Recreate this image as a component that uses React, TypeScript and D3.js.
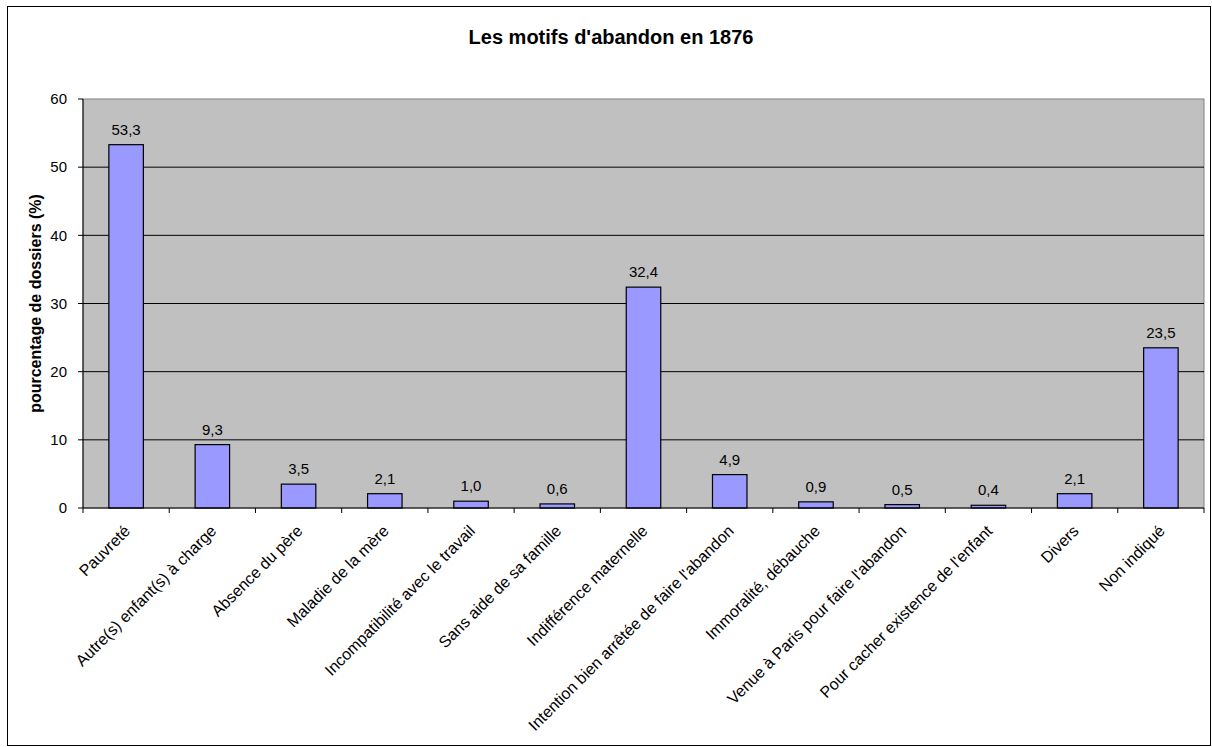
import React from "react";
import * as d3 from "d3";

const categories = [
  "Pauvreté",
  "Autre(s) enfant(s) à charge",
  "Absence du père",
  "Maladie de la mère",
  "Incompatibilité avec le travail",
  "Sans aide de sa famille",
  "Indifférence maternelle",
  "Intention bien arrêtée de faire l'abandon",
  "Immoralité, débauche",
  "Venue à Paris pour faire l'abandon",
  "Pour cacher existence de l'enfant",
  "Divers",
  "Non indiqué",
];
const values = [53.3, 9.3, 3.5, 2.1, 1.0, 0.6, 32.4, 4.9, 0.9, 0.5, 0.4, 2.1, 23.5];
const yTicks = [0, 10, 20, 30, 40, 50, 60];

const W = 1212;
const H = 747;
const plot = { left: 83, right: 1204, top: 99, bottom: 508 };
const font = "'Liberation Sans', Arial, sans-serif";

export default function App() {
  const x = d3
    .scaleBand<string>()
    .domain(categories)
    .range([plot.left, plot.right])
    .paddingInner(0.6)
    .paddingOuter(0.3);
  const y = d3.scaleLinear().domain([0, 60]).range([plot.bottom, plot.top]);
  const step = x.step();
  const fmt = (v: number) => v.toFixed(1).replace(".", ",");

  return (
    <svg width={W} height={H} style={{ position: "absolute", left: 0, top: 0 }} fontFamily={font}>
      <rect x={0} y={0} width={W} height={H} fill="#fff" />
      <rect x={7.5} y={6.5} width={1203} height={739} fill="#fff" stroke="#000" strokeWidth={1} />
      <text x={611} y={44} textAnchor="middle" fontSize={20} fontWeight="bold">
        Les motifs d'abandon en 1876
      </text>
      <rect
        x={plot.left}
        y={plot.top}
        width={plot.right - plot.left}
        height={plot.bottom - plot.top}
        fill="#c0c0c0"
        stroke="#808080"
        strokeWidth={1}
      />
      {yTicks.slice(1, -1).map((t) => (
        <line key={t} x1={plot.left} x2={plot.right} y1={y(t)} y2={y(t)} stroke="#000" strokeWidth={1} />
      ))}
      {/* y axis */}
      <line x1={plot.left} x2={plot.left} y1={plot.top} y2={plot.bottom} stroke="#000" />
      {yTicks.map((t) => (
        <g key={t}>
          <line x1={plot.left - 5} x2={plot.left} y1={y(t)} y2={y(t)} stroke="#000" />
          <text x={plot.left - 16} y={y(t) + 5.3} textAnchor="end" fontSize={15}>
            {t}
          </text>
        </g>
      ))}
      {/* bars */}
      {categories.map((c, i) => (
        <g key={c}>
          <rect
            x={x(c)!}
            y={y(values[i])}
            width={x.bandwidth()}
            height={y(0) - y(values[i])}
            fill="#9999ff"
            stroke="#000"
            strokeWidth={1.2}
          />
          <text x={x(c)! + x.bandwidth() / 2} y={y(values[i]) - 10} textAnchor="middle" fontSize={15}>
            {fmt(values[i])}
          </text>
        </g>
      ))}
      {/* x axis */}
      <line x1={plot.left} x2={plot.right} y1={plot.bottom} y2={plot.bottom} stroke="#000" />
      {d3.range(categories.length + 1).map((i) => (
        <line
          key={i}
          x1={plot.left + i * step}
          x2={plot.left + i * step}
          y1={plot.bottom}
          y2={plot.bottom + 5}
          stroke="#000"
        />
      ))}
      {categories.map((c) => {
        const cx = x(c)! + x.bandwidth() / 2 + 5;
        const cy = plot.bottom + 24;
        return (
          <text
            key={c}
            x={cx}
            y={cy}
            textAnchor="end"
            fontSize={16}
            transform={`rotate(-45 ${cx} ${cy})`}
          >
            {c}
          </text>
        );
      })}
      <text
        x={0}
        y={0}
        transform={`translate(41 ${(plot.top + plot.bottom) / 2}) rotate(-90)`}
        textAnchor="middle"
        fontSize={16}
        fontWeight="bold"
      >
        pourcentage de dossiers (%)
      </text>
    </svg>
  );
}
